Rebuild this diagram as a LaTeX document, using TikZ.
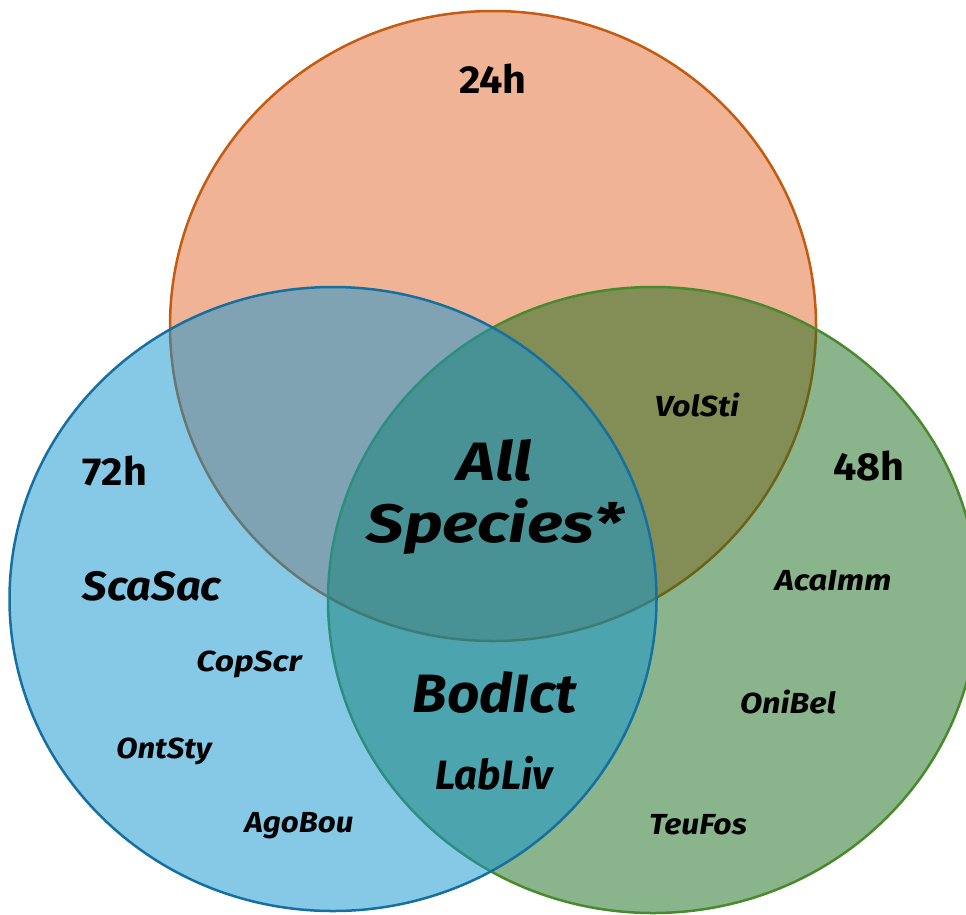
\documentclass[tikz,border=0pt]{standalone}
\usepackage{fontspec}
\newfontfamily\vfont{Fira Sans}
\newcommand{\wx}[2]{\scalebox{#1}[1]{#2}}
\definecolor{ofill}{RGB}{227,105,45}
\definecolor{bfill}{RGB}{15,149,209}
\definecolor{gfill}{RGB}{23,107,27}
\definecolor{ostroke}{RGB}{197,90,17}
\definecolor{bstroke}{RGB}{21,112,160}
\definecolor{gstroke}{RGB}{72,138,44}
\tikzset{
  setcircle/.style={line width=2.5pt, fill opacity=0.5},
  hourlabel/.style={font=\vfont\bfseries\fontsize{39}{39}\selectfont, inner sep=0pt, anchor=center},
  biglabel/.style={font=\vfont\bfseries\itshape\fontsize{54}{62}\selectfont, inner sep=0pt, align=center},
  midlabel/.style={font=\vfont\bfseries\itshape\fontsize{41}{41}\selectfont, inner sep=0pt},
  smalllabel/.style={font=\vfont\bfseries\itshape\fontsize{29}{29}\selectfont, inner sep=0pt}
}
\begin{document}
\begin{tikzpicture}[x=1pt,y=-1pt]
\useasboundingbox (0,0) rectangle (966,914);
\clip (0,0) rectangle (966,914);
\fill[white] (0,0) rectangle (966,914);
% circles: orange, green, blue (blue on top)
\draw[setcircle, draw=ostroke, fill=ofill] (493,326) ellipse [x radius=323pt, y radius=315pt];
\draw[setcircle, draw=gstroke, fill=gfill] (653,600) ellipse [x radius=325pt, y radius=313pt];
\draw[setcircle, draw=bstroke, fill=bfill] (333,599) ellipse [x radius=323.5pt, y radius=312pt];
% hour labels
\node[hourlabel] (h24) at (493,79) {\wx{1.06}{24h}};
\node[hourlabel] (h72) at (115,471) {\wx{1.06}{72h}};
\node[hourlabel] (h48) at (869,466) {\wx{1.06}{48h}};
% labels
\node[biglabel] (allsp) at (495,497) {\wx{1.2}{All}\\\wx{1.23}{Species*}};
\node[biglabel] (bod) at (495,692) {\wx{1.05}{BodIct}};
\node[midlabel] (lab) at (494,773) {\wx{0.98}{LabLiv}};
\node[midlabel] (sca) at (152,586) {\wx{1.06}{ScaSac}};
\node[smalllabel] (cop) at (249,664) {\wx{1.16}{CopScr}};
\node[smalllabel] (ont) at (164,751) {\wx{1.07}{OntSty}};
\node[smalllabel] (ago) at (299,826) {\wx{1.08}{AgoBou}};
\node[smalllabel] (vol) at (697,405) {\wx{1.11}{VolSti}};
\node[smalllabel] (aca) at (833,581) {\wx{1.13}{AcaImm}};
\node[smalllabel] (oni) at (788,702) {\wx{1.12}{OniBel}};
\node[smalllabel] (teu) at (698,825) {\wx{1.1}{TeuFos}};
\end{tikzpicture}
\end{document}
